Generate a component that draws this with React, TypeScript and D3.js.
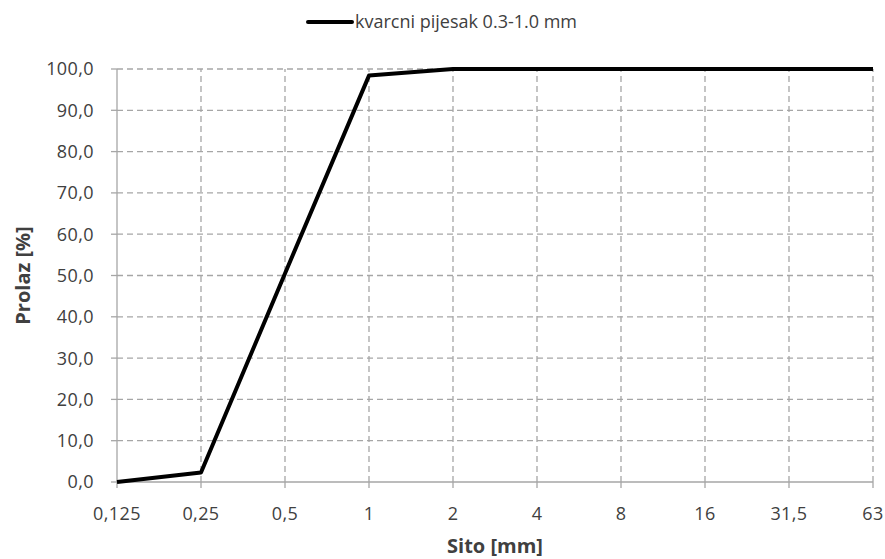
import * as React from "react"
import * as d3 from "d3"

const sieves = ["0,125", "0,25", "0,5", "1", "2", "4", "8", "16", "31,5", "63"]
const passing = [0, 2.3, 50.5, 98.4, 100, 100, 100, 100, 100, 100]
const yTicks = [0, 10, 20, 30, 40, 50, 60, 70, 80, 90, 100]
const seriesName = "kvarcni pijesak 0.3-1.0 mm"

const W = 885
const H = 559
const margin = { top: 69, right: 12, bottom: 77, left: 117 }
const font = "'Open Sans', sans-serif"

export default function App() {
  const x = d3
    .scalePoint<string>()
    .domain(sieves)
    .range([margin.left, W - margin.right])
  const y = d3
    .scaleLinear()
    .domain([0, 100])
    .range([H - margin.bottom, margin.top])

  const line = d3
    .line<number>()
    .x((_, i) => x(sieves[i]) as number)
    .y((d) => y(d))

  const x0 = margin.left
  const x1 = W - margin.right
  const y0 = H - margin.bottom
  const y1 = margin.top

  return (
    <svg
      width={W}
      height={H}
      viewBox={`0 0 ${W} ${H}`}
      style={{ position: "absolute", left: 0, top: 0, background: "#fff" }}
      fontFamily={font}
    >
      {/* grid */}
      {yTicks
        .filter((t) => t > 0)
        .map((t) => (
          <line
            key={"gy" + t}
            x1={x0}
            x2={x1}
            y1={y(t)}
            y2={y(t)}
            stroke="#a6a6a6"
            strokeWidth={1.3}
            strokeDasharray="6,4"
          />
        ))}
      {sieves.slice(1).map((s) => (
        <line
          key={"gx" + s}
          x1={x(s)}
          x2={x(s)}
          y1={y0}
          y2={y1}
          stroke="#a6a6a6"
          strokeWidth={1.3}
          strokeDasharray="6,4"
        />
      ))}

      {/* axes */}
      <line x1={x0} x2={x0} y1={y1} y2={y0} stroke="#a6a6a6" strokeWidth={1.3} />
      <line x1={x0} x2={x1} y1={y0} y2={y0} stroke="#a6a6a6" strokeWidth={1.3} />
      {yTicks.map((t) => (
        <g key={"ty" + t}>
          <line x1={x0 - 6} x2={x0} y1={y(t)} y2={y(t)} stroke="#a6a6a6" strokeWidth={1.3} />
          <text
            x={x0 - 23}
            y={y(t)}
            dy="0.36em"
            textAnchor="end"
            fontSize={18}
            letterSpacing={0.4}
            fill="#404040"
          >
            {t.toFixed(1).replace(".", ",")}
          </text>
        </g>
      ))}
      {sieves.map((s) => (
        <g key={"tx" + s}>
          <line x1={x(s)} x2={x(s)} y1={y0} y2={y0 + 6} stroke="#a6a6a6" strokeWidth={1.3} />
          <text
            x={x(s)}
            y={y0 + 38}
            textAnchor="middle"
            fontSize={18}
            letterSpacing={0.4}
            fill="#404040"
          >
            {s}
          </text>
        </g>
      ))}

      {/* data */}
      <path
        d={line(passing) || ""}
        fill="none"
        stroke="#000"
        strokeWidth={4}
        strokeLinejoin="round"
      />

      {/* titles */}
      <text
        x={(x0 + x1) / 2}
        y={553}
        textAnchor="middle"
        fontSize={20}
        fontWeight="bold"
        fill="#404040"
      >
        Sito [mm]
      </text>
      <text
        transform={`translate(30,${(y0 + y1) / 2}) rotate(-90)`}
        textAnchor="middle"
        fontSize={20}
        fontWeight="bold"
        fill="#404040"
      >
        Prolaz [%]
      </text>

      {/* legend */}
      <line x1={308} x2={352} y1={22} y2={22} stroke="#000" strokeWidth={4} strokeLinecap="round" />
      <text x={355} y={22} dy="0.36em" fontSize={18} fill="#404040">
        {seriesName}
      </text>
    </svg>
  )
}
